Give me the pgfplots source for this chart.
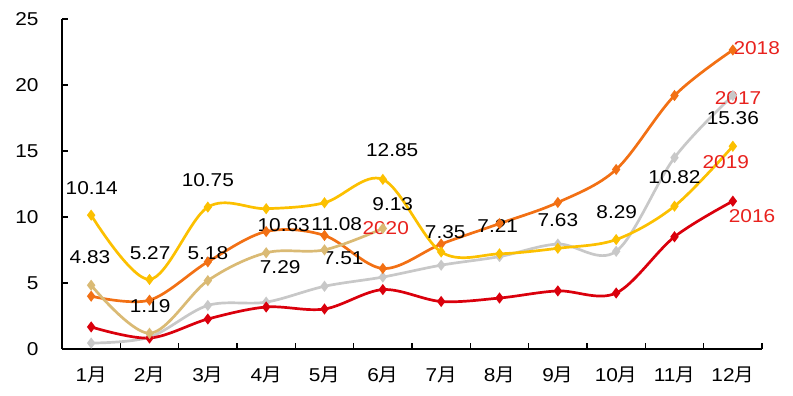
\documentclass[border=0pt]{standalone}
\usepackage{pgfplots}
\pgfplotsset{compat=1.18}
\usepackage{fontspec}
\setmainfont{Liberation Sans}[FakeStretch=1.12]
\newfontfamily\cjk{Noto Sans CJK SC}[FakeStretch=1.05]
\definecolor{c16}{RGB}{218,0,12}
\definecolor{c17}{RGB}{200,200,200}
\definecolor{c18}{RGB}{242,112,20}
\definecolor{c19}{RGB}{252,192,0}
\definecolor{c20}{RGB}{218,186,116}
\definecolor{lblred}{RGB}{232,34,30}
\newcommand{\lf}{\fontsize{18.6}{20}\selectfont}
\begin{document}
\begin{tikzpicture}[x=1pt,y=1pt]
\path[use as bounding box] (-62,-47) rectangle (731,349);
\begin{axis}[at={(0,0)}, anchor=south west, scale only axis,
  width=700pt, height=330pt,
  xmin=0.5, xmax=12.5, ymin=0, ymax=25,
  axis x line=bottom, axis y line=left,
  axis line style={-, line width=1.5pt, black},
  tick align=inside,
  xtick={1,2,3,4,5,6,7,8,9,10,11,12},
  xticklabels={1{\cjk 月},2{\cjk 月},3{\cjk 月},4{\cjk 月},5{\cjk 月},6{\cjk 月},7{\cjk 月},8{\cjk 月},9{\cjk 月},10{\cjk 月},11{\cjk 月},12{\cjk 月}},
  major x tick style={draw=none},
  minor xtick={0.5,1.5,2.5,3.5,4.5,5.5,6.5,7.5,8.5,9.5,10.5,11.5,12.5},
  minor tick length=6pt, major tick length=6pt,
  ytick={0,5,10,15,20,25},
  tick style={black, line width=1.3pt},
  /pgf/number format/assume math mode=true,
  every tick label/.append style={font=\lf},
  xticklabel style={yshift=-14pt},
  yticklabel style={xshift=-20pt},
  clip=false,
  every axis plot/.append style={line width=2.7pt, smooth, tension=0.55, mark=diamond*, mark size=3.4pt, mark options={solid}},
]
\addplot[c17] coordinates {(1,0.45) (2,0.9) (3,3.3) (4,3.55) (5,4.75) (6,5.45) (7,6.35) (8,7.0) (9,7.95) (10,7.4) (11,14.5) (12,19.2)};
\addplot[c16] coordinates {(1,1.67) (2,0.83) (3,2.27) (4,3.18) (5,3.03) (6,4.5) (7,3.6) (8,3.86) (9,4.4) (10,4.24) (11,8.5) (12,11.2)};
\addplot[c18] coordinates {(1,4.0) (2,3.7) (3,6.6) (4,8.9) (5,8.6) (6,6.1) (7,7.95) (8,9.5) (9,11.1) (10,13.6) (11,19.2) (12,22.65)};
\addplot[c20] coordinates {(1,4.83) (2,1.19) (3,5.18) (4,7.29) (5,7.51) (6,9.13)};
\addplot[c19] coordinates {(1,10.14) (2,5.27) (3,10.75) (4,10.63) (5,11.08) (6,12.85) (7,7.35) (8,7.21) (9,7.63) (10,8.29) (11,10.82) (12,15.36)};
% data labels 2019
\node[font=\lf] at (axis cs:1.01,12.2) {10.14};
\node[font=\lf] at (axis cs:2.01,7.27) {5.27};
\node[font=\lf] at (axis cs:3.0,12.8) {10.75};
\node[font=\lf] at (axis cs:4.3,9.4) {10.63};
\node[font=\lf] at (axis cs:5.21,9.45) {11.08};
\node[font=\lf] at (axis cs:6.16,15.1) {12.85};
\node[font=\lf] at (axis cs:7.07,8.86) {7.35};
\node[font=\lf] at (axis cs:7.97,9.3) {7.21};
\node[font=\lf] at (axis cs:9.0,9.77) {7.63};
\node[font=\lf] at (axis cs:10.01,10.4) {8.29};
\node[font=\lf] at (axis cs:11.0,13.0) {10.82};
\node[font=\lf] at (axis cs:12.0,17.5) {15.36};
% data labels 2020
\node[font=\lf] at (axis cs:0.98,6.97) {4.83};
\node[font=\lf] at (axis cs:2.01,3.26) {1.19};
\node[font=\lf] at (axis cs:3.0,7.27) {5.18};
\node[font=\lf] at (axis cs:4.24,6.2) {7.29};
\node[font=\lf] at (axis cs:5.32,6.9) {7.51};
\node[font=\lf] at (axis cs:6.17,11.0) {9.13};
% series names
\node[font=\lf, text=lblred] at (axis cs:12.41,22.8) {2018};
\node[font=\lf, text=lblred] at (axis cs:12.09,19.0) {2017};
\node[font=\lf, text=lblred] at (axis cs:11.88,14.17) {2019};
\node[font=\lf, text=lblred] at (axis cs:12.33,10.08) {2016};
\node[font=\lf, text=lblred] at (axis cs:6.05,9.17) {2020};
\end{axis}
\end{tikzpicture}
\end{document}
